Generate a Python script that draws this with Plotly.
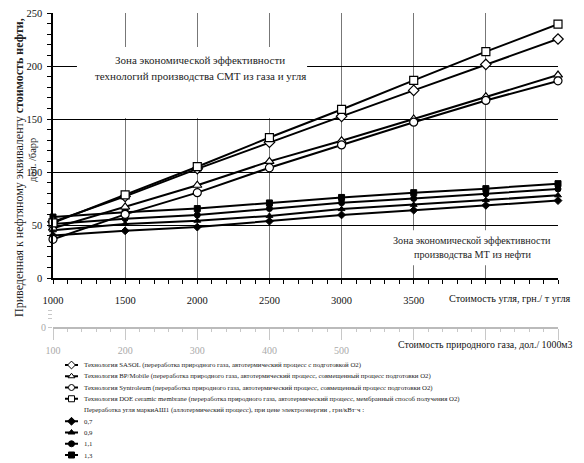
import plotly.graph_objects as go

# ---------------- data ----------------
coal_price = [1000, 1500, 2000, 2500, 3000, 3500, 4000, 4500]
sasol = [53, 77, 103, 128, 152.5, 177, 201.5, 225.5]
bp_mobile = [47, 67, 87.5, 110, 129.5, 150, 171, 191.5]
syntroleum = [36.5, 60, 80.5, 104, 125.5, 147, 167.5, 186]
doe_membrane = [52, 78.5, 105, 132.5, 159, 186.5, 213.5, 239.5]
coal_07 = [40, 44.5, 48, 53.6, 59.5, 64, 68.5, 73]
coal_09 = [45, 51, 54, 58.6, 65, 69, 73.5, 78]
coal_11 = [51, 56, 59.5, 65.5, 71, 75, 79.5, 84]
coal_13 = [57.5, 62, 65.5, 70.8, 76, 80.5, 84.3, 89]

coal_ticks = [1000, 1500, 2000, 2500, 3000, 3500, 4000, 4500]
coal_tick_labels = ["1000", "1500", "2000", "2500", "3000", "3500", "", ""]
gas_ticks = [100, 200, 300, 400, 500, 600, 700, 800]
gas_tick_labels = ["100", "200", "300", "400", "500", "", "", ""]
y_ticks = [0, 50, 100, 150, 200, 250]

gas_names = [
    "Технология SASOL (переработка природного газа, автотермический процесс с подготовкой O2)",
    "Технология BP/Mobile (переработка природного газа, автотермический процесс, совмещенный процесс подготовки O2)",
    "Технология Syntroleum (переработка природного газа, автотермический процесс, совмещенный процесс подготовки O2)",
    "Технология DOE ceramic membrane (переработка природного газа, автотермический процесс, мембранный способ получения O2)",
]
coal_header = "Переработка угля маркиАШ1 (аллотермический процесс), при цене электроэнергии , грн/кВт·ч :"
coal_names = ["0,7", "0,9", "1,1", "1,3"]

gas_series = [sasol, bp_mobile, syntroleum, doe_membrane]
gas_symbols = ["diamond", "triangle-up", "circle", "square"]
coal_series = [coal_07, coal_09, coal_11, coal_13]
coal_symbols = ["diamond", "triangle-up", "circle", "square"]

SERIF = "Liberation Serif, Times New Roman, serif"

# page body has an 8px margin -> the figure starts at screen (8, 8)
OFF = 8
SW, SH = 584, 463                 # screen size
W, H = SW - OFF, SH - OFF         # figure size
# plot area in screen pixels
S_LEFT, S_RIGHT, S_TOP, S_BOTTOM = 53, 558, 13, 458
ML = S_LEFT - OFF
MR = SW - S_RIGHT
MT = S_TOP - OFF
MB = SH - S_BOTTOM
PW = S_RIGHT - S_LEFT
PH = S_BOTTOM - S_TOP


def PX(px):
    return (px - S_LEFT) / PW


def PY(py):
    return (S_BOTTOM - py) / PH


fig = go.Figure()

# coal series (filled markers)
for vals, sym, name in zip(coal_series, coal_symbols, coal_names):
    fig.add_trace(go.Scatter(
        x=coal_price, y=vals, mode="lines+markers", name=name,
        line=dict(color="black", width=2),
        marker=dict(symbol=sym, size=6, color="black", line=dict(color="black", width=1)),
        cliponaxis=False, showlegend=False, hoverinfo="skip"))

# gas technologies (open markers)
for vals, sym, name in zip(gas_series, gas_symbols, gas_names):
    fig.add_trace(go.Scatter(
        x=coal_price, y=vals, mode="lines+markers", name=name,
        line=dict(color="black", width=2),
        marker=dict(symbol=sym, size=8, color="white", line=dict(color="black", width=1.2)),
        cliponaxis=False, showlegend=False, hoverinfo="skip"))

# empty trace so the ghost gas-price axis subplot exists
fig.add_trace(go.Scatter(x=[], y=[], xaxis="x4", yaxis="y4", showlegend=False, hoverinfo="skip"))

# ---------- manual legend (keys on hidden axis x5/y5 in screen pixel units) ----------
row_y0, row_dy = 365, 11.25
key_x = [65, 71.5, 78]
legend_rows = []
for i, (sym, name) in enumerate(zip(gas_symbols, gas_names)):
    legend_rows.append((i, sym, "white", name))
for j, (sym, name) in enumerate(zip(coal_symbols, coal_names)):
    legend_rows.append((5 + j, sym, "black", name))

for row, sym, fill, name in legend_rows:
    yy = row_y0 + row * row_dy
    fig.add_trace(go.Scatter(
        x=key_x, y=[yy] * 3, mode="lines+markers", xaxis="x5", yaxis="y5",
        line=dict(color="black", width=2),
        marker=dict(symbol=sym, size=[0, 6, 0], color=fill, opacity=[0, 1, 0],
                    line=dict(color="black", width=1)),
        cliponaxis=False, showlegend=False, hoverinfo="skip"))

annotations = []
leg_font = dict(family=SERIF, size=6.8, color="#222")
for row, sym, fill, name in legend_rows:
    annotations.append(dict(x=82, y=row_y0 + row * row_dy, xref="x5", yref="y5", text=name,
                            showarrow=False, xanchor="left", yanchor="middle", font=leg_font))
annotations.append(dict(x=82, y=row_y0 + 4 * row_dy, xref="x5", yref="y5", text=coal_header,
                        showarrow=False, xanchor="left", yanchor="middle", font=leg_font))


def note(px, py, text, size, xanchor="center", color="#222", angle=0):
    return dict(x=PX(px), y=PY(py), xref="paper", yref="paper", text=text,
                showarrow=False, xanchor=xanchor, yanchor="middle", textangle=angle,
                font=dict(family=SERIF, size=size, color=color))


annotations += [
    note(200, 60, "Зона экономической эффективности", 11),
    note(200, 76, "технологий производства СМТ из газа и угля", 11),
    note(472, 240, "Зона экономической эффективности", 10.2),
    note(473, 255, "производства МТ из нефти", 10.2),
    note(573, 298, "Стоимость угля, грн./ т угля", 10.2, xanchor="right", color="#111"),
    note(575, 344, "Стоимость природного газа, дол./ 1000м3", 9.9, xanchor="right", color="#111"),
    note(19, 168, "Приведенная к нефтяному эквиваленту <b>стоимость нефти,</b>", 12, angle=-90),
    note(32, 160, "дол. /барр", 10.5, angle=-90),
]

shapes = [
    dict(type="rect", xref="x", yref="y", x0=1166, x1=2761, y0=151, y1=218,
         fillcolor="white", line=dict(width=0), layer="between"),
    dict(type="rect", xref="x", yref="y", x0=3337, x1=4460, y0=12, y1=45,
         fillcolor="white", line=dict(width=0), layer="between"),
]

tickfont = dict(family=SERIF, size=10.5, color="#111")
faint = "#c8c8c8"

fig.update_layout(
    template="none",
    width=W, height=H,
    margin=dict(l=ML, r=MR, t=MT, b=MB, pad=0),
    paper_bgcolor="white", plot_bgcolor="white",
    showlegend=False,
    annotations=annotations,
    shapes=shapes,
    xaxis=dict(domain=[0, 1], anchor="y", range=[1000, 4500],
               tickmode="array", tickvals=coal_ticks, ticktext=coal_tick_labels,
               ticks="outside", ticklen=4, tickcolor="black", tickwidth=1,
               minor=dict(dtick=100, tick0=1000, ticks="outside", ticklen=4,
                          tickcolor="black", showgrid=False),
               showgrid=True, gridcolor="#777", gridwidth=1,
               showline=True, linecolor="black", linewidth=1.5, zeroline=False,
               tickfont=tickfont, ticklabelstandoff=8, ticklabeloverflow="allow"),
    xaxis2=dict(overlaying="x", matches="x", anchor="y", side="bottom",
                tickmode="array", tickvals=coal_ticks,
                ticks="inside", ticklen=4, tickcolor="black",
                minor=dict(dtick=100, tick0=1000, ticks="inside", ticklen=4,
                           tickcolor="black", showgrid=False),
                showticklabels=False, showgrid=False, showline=False, zeroline=False),
    xaxis3=dict(overlaying="x", matches="x", anchor="y", side="top",
                showline=True, linecolor="#999", linewidth=1.5, ticks="",
                showticklabels=False, showgrid=False, zeroline=False),
    yaxis=dict(domain=[PY(278), 1], anchor="x", range=[0, 250],
               tickmode="array", tickvals=y_ticks,
               ticks="outside", ticklen=4, tickcolor="black",
               minor=dict(dtick=10, tick0=0, ticks="outside", ticklen=4,
                          tickcolor="black", showgrid=False),
               showgrid=True, gridcolor="black", gridwidth=1,
               showline=True, linecolor="black", linewidth=1.5, zeroline=False,
               tickfont=tickfont, ticklabelstandoff=3, ticklabeloverflow="allow"),
    yaxis2=dict(overlaying="y", matches="y", anchor="x", side="left",
                tickmode="array", tickvals=y_ticks,
                ticks="inside", ticklen=4, tickcolor="black",
                minor=dict(dtick=10, tick0=0, ticks="inside", ticklen=4,
                           tickcolor="black", showgrid=False),
                showticklabels=False, showgrid=False, showline=False, zeroline=False),
    yaxis3=dict(overlaying="y", matches="y", anchor="x", side="right",
                showline=True, linecolor="#999", linewidth=1.5, ticks="",
                showticklabels=False, showgrid=False, zeroline=False),
    # faint "ghost" axis of natural gas price
    xaxis4=dict(domain=[0, 1], anchor="y4", range=[100, 800],
                tickmode="array", tickvals=gas_ticks, ticktext=gas_tick_labels,
                ticks="outside", ticklen=11, tickcolor=faint,
                minor=dict(dtick=20, tick0=100, ticks="outside", ticklen=3,
                           tickcolor=faint, showgrid=False),
                showline=True, linecolor="#bbb", linewidth=1.5,
                showgrid=False, zeroline=False, ticklabelstandoff=2,
                tickfont=dict(family=SERIF, size=10, color="#aaa")),
    xaxis6=dict(overlaying="x4", anchor="y4", range=[100, 800],
                tickmode="array", tickvals=gas_ticks,
                ticks="inside", ticklen=18, tickcolor="#ddd",
                showticklabels=False, showline=False, showgrid=False, zeroline=False),
    yaxis4=dict(domain=[PY(327), PY(305)], anchor="x4", range=[0, 22],
                tickmode="array", tickvals=[0, 9, 13, 17], ticktext=["0", "", "", ""],
                ticks="outside", ticklen=4, tickcolor=faint,
                showline=False, showgrid=False, zeroline=False,
                tickfont=dict(family=SERIF, size=10, color="#aaa")),
    xaxis5=dict(domain=[0, 1], anchor="y5", range=[S_LEFT, S_RIGHT], visible=False),
    yaxis5=dict(domain=[0, PY(351.2)], anchor="x5", range=[S_BOTTOM, 351.2], visible=False),
)

fig.write_html("out.html")
